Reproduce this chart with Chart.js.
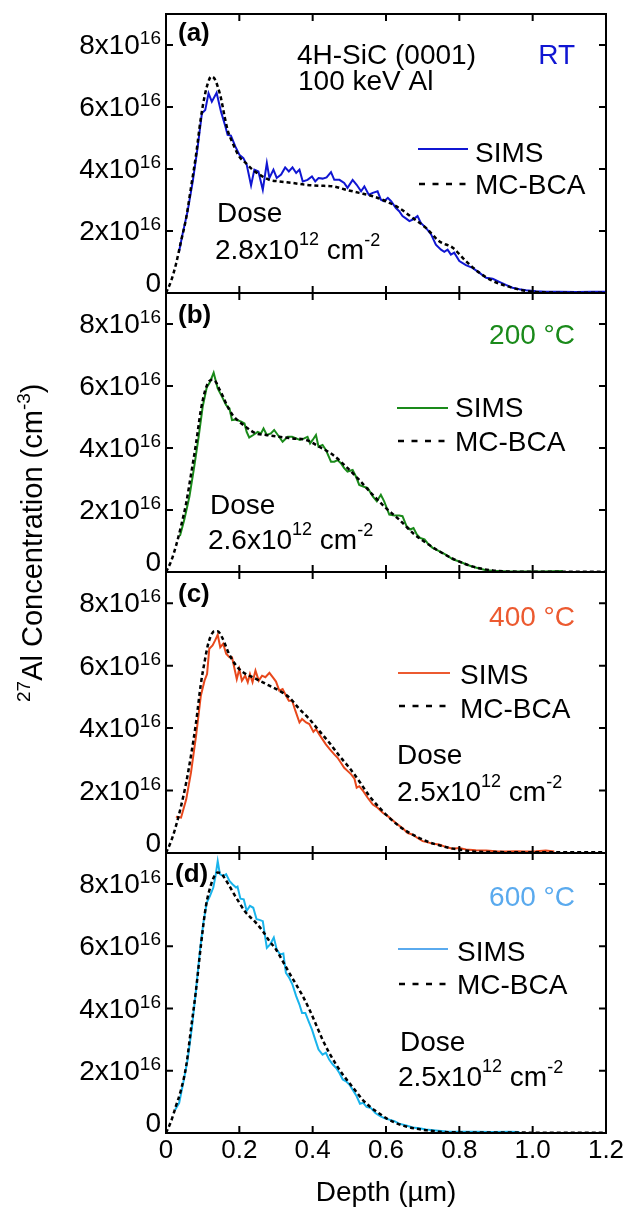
<!DOCTYPE html>
<html>
<head>
<meta charset="utf-8">
<script src="https://cdn.jsdelivr.net/npm/chart.js@4.4.1/dist/chart.umd.min.js"></script>
<style>
  html, body { margin: 0; padding: 0; background: #fff; }
  #wrap { position: relative; width: 630px; height: 1214px; }
  #wrap canvas { position: absolute; left: 0; top: 0; }
</style>
</head>
<body>
<div id="wrap">
  <canvas id="panelA" width="630" height="1214"></canvas>
  <canvas id="panelB" width="630" height="1214"></canvas>
  <canvas id="panelC" width="630" height="1214"></canvas>
  <canvas id="panelD" width="630" height="1214"></canvas>
</div>
<script>
// depth in um, concentration in units of 1e16 cm^-3

// (a) RT
const simsA_depth = [0.035,0.045,0.059,0.073,0.086,0.098,0.107,0.116,0.125,0.138,0.150,0.162,0.168,0.177,0.189,0.200,0.211,0.220,0.232,0.241,0.252,0.264,0.275,0.282,0.293,0.302,0.314,0.325,0.335,0.345,0.355,0.364,0.373,0.386,0.398,0.407,0.416,0.427,0.438,0.450,0.459,0.473,0.486,0.495,0.509,0.520,0.532,0.541,0.553,0.564,0.577,0.586,0.595,0.605,0.614,0.627,0.636,0.645,0.655,0.664,0.673,0.686,0.695,0.709,0.723,0.736,0.750,0.759,0.768,0.777,0.786,0.800,0.818,0.836,0.855,0.873,0.891,0.909,0.927,0.945,0.964,0.982,1.009,1.036,1.073,1.118,1.164,1.200];
const simsA_conc = [1.30,1.89,2.64,3.60,4.67,5.80,5.90,6.44,6.17,6.46,5.85,5.37,5.10,5.08,4.73,4.46,4.35,4.14,3.47,3.98,3.92,3.33,4.19,3.71,3.98,3.71,3.82,4.05,3.92,4.05,3.87,3.98,3.60,3.65,3.76,3.60,3.71,3.69,3.73,3.90,3.65,3.65,3.55,3.39,3.65,3.49,3.28,3.44,3.17,3.23,3.28,3.01,2.96,3.07,2.96,2.74,2.64,2.48,2.40,2.32,2.37,2.48,2.26,2.10,1.89,1.56,1.40,1.33,1.40,1.24,1.30,1.03,0.90,0.81,0.65,0.49,0.46,0.36,0.26,0.17,0.12,0.09,0.06,0.04,0.04,0.03,0.04,0.04];
const mcA_depth = [0,0.014,0.027,0.041,0.055,0.068,0.082,0.095,0.105,0.114,0.123,0.132,0.141,0.150,0.159,0.168,0.182,0.200,0.218,0.236,0.255,0.282,0.309,0.345,0.382,0.418,0.455,0.491,0.527,0.564,0.600,0.636,0.673,0.709,0.745,0.782,0.818,0.855,0.891,0.927,0.964,1.000,1.036,1.073,1.200];
const mcA_conc = [0,0.39,0.92,1.67,2.42,3.39,4.46,5.64,6.33,6.76,6.98,6.92,6.66,6.28,5.74,5.26,4.83,4.40,4.19,3.98,3.82,3.65,3.60,3.55,3.49,3.46,3.44,3.33,3.23,3.12,2.96,2.74,2.42,2.10,1.67,1.46,1.03,0.65,0.39,0.23,0.11,0.04,0.02,0.01,0.01];

// (b) 200 C
const simsB_depth = [0.038,0.050,0.064,0.077,0.089,0.100,0.111,0.120,0.130,0.141,0.153,0.164,0.173,0.180,0.191,0.205,0.214,0.220,0.227,0.238,0.250,0.259,0.266,0.275,0.286,0.295,0.305,0.318,0.332,0.344,0.355,0.365,0.377,0.386,0.393,0.400,0.409,0.416,0.427,0.436,0.450,0.459,0.468,0.477,0.486,0.495,0.509,0.518,0.527,0.538,0.550,0.564,0.575,0.586,0.595,0.609,0.623,0.636,0.645,0.656,0.666,0.675,0.684,0.693,0.705,0.714,0.727,0.745,0.764,0.782,0.800,0.818,0.836,0.855,0.873,0.891,0.936,0.982,1.027,1.082];
const simsB_conc = [1.16,1.69,2.44,3.40,4.36,5.33,5.95,6.13,6.43,5.92,5.65,5.38,5.28,4.90,4.92,4.85,4.79,4.52,4.34,4.42,4.52,4.47,4.63,4.42,4.47,4.58,4.42,4.20,4.36,4.36,4.31,4.26,4.31,4.36,4.15,4.26,4.42,4.04,4.10,3.94,3.56,3.56,3.61,3.51,3.35,3.24,3.29,3.08,2.81,2.76,2.71,2.44,2.28,2.49,2.28,1.85,1.82,1.82,1.80,1.48,1.37,1.42,1.21,1.10,1.05,0.92,0.78,0.67,0.55,0.41,0.34,0.25,0.17,0.11,0.06,0.04,0.02,0.02,0.02,0.03];
const mcB_depth = [0,0.014,0.027,0.041,0.055,0.068,0.082,0.095,0.107,0.118,0.127,0.136,0.145,0.156,0.168,0.182,0.200,0.218,0.245,0.273,0.309,0.345,0.382,0.418,0.455,0.491,0.527,0.564,0.600,0.636,0.673,0.709,0.745,0.782,0.818,0.855,0.891,0.927,0.982,1.200];
const mcB_conc = [0,0.35,0.83,1.48,2.22,3.13,4.15,5.22,5.86,6.16,6.20,6.13,5.91,5.65,5.33,5.06,4.85,4.68,4.47,4.42,4.36,4.31,4.26,4.04,3.78,3.40,2.97,2.49,2.06,1.69,1.26,0.94,0.67,0.43,0.25,0.12,0.05,0.02,0.01,0.01];

// (c) 400 C
const simsC_depth = [0.027,0.041,0.055,0.068,0.082,0.095,0.105,0.112,0.118,0.127,0.134,0.141,0.148,0.156,0.164,0.173,0.180,0.186,0.193,0.200,0.207,0.216,0.223,0.229,0.236,0.244,0.253,0.262,0.271,0.282,0.291,0.300,0.309,0.318,0.325,0.335,0.344,0.353,0.364,0.371,0.382,0.391,0.402,0.409,0.418,0.427,0.436,0.447,0.459,0.468,0.477,0.486,0.495,0.505,0.514,0.520,0.527,0.538,0.550,0.564,0.577,0.591,0.605,0.618,0.632,0.645,0.659,0.673,0.686,0.700,0.714,0.727,0.745,0.764,0.782,0.800,0.818,0.845,0.873,0.900,0.927,0.955,0.982,1.009,1.036,1.059];
const simsC_conc = [1.16,1.13,1.71,2.57,3.75,5.04,5.52,5.73,6.54,6.65,6.81,6.99,6.59,6.70,6.38,6.27,6.27,5.95,5.57,5.89,5.52,5.68,5.47,5.73,5.47,5.84,5.52,5.68,5.63,5.77,5.63,5.49,5.20,5.25,5.09,4.88,4.88,4.55,4.18,4.29,4.18,4.13,3.88,3.97,3.80,3.64,3.48,3.32,3.16,3.05,2.89,2.73,2.63,2.52,2.38,2.09,2.14,1.98,1.77,1.55,1.45,1.29,1.18,1.05,0.91,0.80,0.64,0.59,0.48,0.38,0.34,0.30,0.27,0.19,0.14,0.16,0.11,0.09,0.08,0.06,0.05,0.06,0.05,0.06,0.08,0.05];
const mcC_depth = [0,0.014,0.027,0.041,0.055,0.068,0.082,0.095,0.105,0.114,0.123,0.132,0.141,0.150,0.159,0.168,0.182,0.200,0.218,0.236,0.255,0.282,0.309,0.336,0.364,0.391,0.418,0.445,0.473,0.500,0.527,0.555,0.582,0.609,0.636,0.664,0.691,0.718,0.745,0.773,0.800,0.836,0.891,1.200];
const mcC_conc = [0,0.38,0.86,1.50,2.25,3.11,4.18,5.41,6.11,6.65,6.97,7.10,7.10,6.97,6.75,6.48,6.16,5.89,5.73,5.63,5.52,5.36,5.20,4.98,4.61,4.29,3.91,3.54,3.11,2.73,2.30,1.82,1.45,1.13,0.86,0.64,0.48,0.34,0.25,0.16,0.11,0.05,0.03,0.02];

// (d) 600 C
const simsD_depth = [0.025,0.036,0.047,0.059,0.071,0.082,0.093,0.102,0.111,0.120,0.129,0.135,0.141,0.147,0.156,0.164,0.173,0.182,0.191,0.195,0.203,0.212,0.220,0.229,0.238,0.247,0.255,0.264,0.275,0.284,0.294,0.302,0.311,0.320,0.327,0.336,0.345,0.355,0.364,0.371,0.380,0.389,0.398,0.407,0.416,0.427,0.436,0.445,0.455,0.464,0.473,0.482,0.491,0.500,0.509,0.520,0.529,0.538,0.547,0.559,0.571,0.584,0.595,0.609,0.623,0.636,0.655,0.673,0.691,0.709,0.736,0.764,0.800,0.845,0.891,0.936,0.964];
const simsD_conc = [0.75,0.97,1.61,2.36,3.43,4.61,5.90,6.76,7.40,7.62,7.89,8.26,8.74,8.32,8.26,8.32,8.10,7.99,7.89,7.92,7.53,7.51,7.14,7.30,7.24,6.87,6.85,6.81,5.95,6.06,6.28,5.90,5.74,5.77,5.15,4.99,4.77,4.40,4.13,3.86,3.86,3.59,3.33,3.00,2.68,2.52,2.58,2.36,2.20,2.09,1.93,1.72,1.66,1.56,1.39,1.18,0.94,0.97,0.84,0.80,0.64,0.54,0.48,0.43,0.38,0.30,0.24,0.18,0.15,0.11,0.08,0.05,0.04,0.04,0.03,0.04,0.03];
const mcD_depth = [0,0.014,0.027,0.041,0.055,0.068,0.082,0.095,0.109,0.123,0.132,0.141,0.150,0.159,0.173,0.186,0.200,0.214,0.227,0.245,0.264,0.282,0.300,0.318,0.336,0.355,0.373,0.391,0.409,0.427,0.445,0.464,0.482,0.500,0.518,0.536,0.555,0.573,0.600,0.627,0.655,0.682,0.709,0.745,0.800,1.200];
const mcD_conc = [0,0.38,0.86,1.39,2.15,3.33,4.61,6.01,7.30,7.99,8.26,8.37,8.35,8.21,7.94,7.67,7.40,7.14,6.97,6.76,6.49,6.17,5.90,5.53,5.15,4.77,4.40,3.97,3.49,3.00,2.58,2.20,1.88,1.61,1.34,1.07,0.86,0.70,0.48,0.32,0.21,0.14,0.09,0.04,0.02,0.01];

const xTicks = [0, 0.2, 0.4, 0.6, 0.8, 1.0, 1.2];
const yTicks = [0, 2, 4, 6, 8];
const doseValues = ['2.8', '2.6', '2.5', '2.5'];
const tempLabels = ['RT', '200 \u00b0C', '400 \u00b0C', '600 \u00b0C'];

const FONT = '"Liberation Sans", Arial, Helvetica, sans-serif';
Chart.defaults.font.family = FONT;

// layout of each panel (pixels on the 630x1214 page)
const panels = [
  { id: 'panelA', top: 14, bottom: 293, simsX: simsA_depth, simsY: simsA_conc, mcX: mcA_depth, mcY: mcA_conc,
    color: '#1016d2', keyColor: '#1016d2', tag: '(a)', tagAt: [178, 27], tempDy: 50,
    notes: [['4H-SiC (0001)', 297, 50], ['100 keV Al', 298, 76]],
    key: { x0: 418, x1: 468, tx: 475, sims: 135, simsBase: 148, mc: 170, mcBase: 180 },
    dose: { x: 217, dy: 208, vx: 215, vdy: 245 } },
  { id: 'panelB', top: 293, bottom: 572, simsX: simsB_depth, simsY: simsB_conc, mcX: mcB_depth, mcY: mcB_conc,
    color: '#1a8a1a', keyColor: '#1a8a1a', tag: '(b)', tagAt: [178, 30], tempDy: 51, notes: [],
    key: { x0: 397, x1: 448, tx: 455, sims: 115, simsBase: 124, mc: 148, mcBase: 158 },
    dose: { x: 210, dy: 221, vx: 208, vdy: 256 } },
  { id: 'panelC', top: 572, bottom: 853, simsX: simsC_depth, simsY: simsC_conc, mcX: mcC_depth, mcY: mcC_conc,
    color: '#e8481c', keyColor: '#ec5a30', tag: '(c)', tagAt: [178, 30], tempDy: 54, notes: [],
    key: { x0: 398, x1: 450, tx: 460, sims: 101, simsBase: 112, mc: 134, mcBase: 146 },
    dose: { x: 397, dy: 192, vx: 397, vdy: 229 } },
  { id: 'panelD', top: 853, bottom: 1133, simsX: simsD_depth, simsY: simsD_conc, mcX: mcD_depth, mcY: mcD_conc,
    color: '#1ab4ec', keyColor: '#5aaaee', tag: '(d)', tagAt: [175, 29], tempDy: 53, notes: [],
    key: { x0: 398, x1: 448, tx: 457, sims: 96, simsBase: 108, mc: 131, mcBase: 141 },
    dose: { x: 400, dy: 198, vx: 398, vdy: 233 } }
];

function zip(xs, ys) {
  const n = Math.min(xs.length, ys.length);
  const out = [];
  for (let i = 0; i < n; i++) out.push({ x: xs[i], y: ys[i] });
  return out;
}

// draw pieces of text one after another; each part is [text, size, rise]
function richText(ctx, parts, x, y) {
  let cx = x;
  parts.forEach(([t, size, rise]) => {
    ctx.font = size + 'px ' + FONT;
    ctx.fillText(t, cx, y - rise);
    cx += ctx.measureText(t).width;
  });
  return cx;
}

function richWidth(ctx, parts) {
  let w = 0;
  parts.forEach(([t, size]) => {
    ctx.font = size + 'px ' + FONT;
    w += ctx.measureText(t).width;
  });
  return w;
}

function decorPlugin(p, idx) {
  return {
    id: 'decor' + idx,
    afterDatasetsDraw(chart) {
      const { ctx, chartArea: a } = chart;
      const xs = chart.scales.x, ys = chart.scales.y;
      ctx.save();

      // frame with inward ticks
      ctx.strokeStyle = '#000';
      ctx.lineWidth = 2;
      ctx.setLineDash([]);
      ctx.strokeRect(a.left, a.top, a.right - a.left, a.bottom - a.top);
      ctx.beginPath();
      xTicks.forEach(v => {
        const px = xs.getPixelForValue(v);
        if (px <= a.left + 1 || px >= a.right - 1) return;
        ctx.moveTo(px, a.bottom); ctx.lineTo(px, a.bottom - 7);
        ctx.moveTo(px, a.top); ctx.lineTo(px, a.top + 7);
      });
      yTicks.forEach(v => {
        const py = ys.getPixelForValue(v);
        if (py >= a.bottom - 1) return;
        ctx.moveTo(a.left, py); ctx.lineTo(a.left + 7, py);
        ctx.moveTo(a.right, py); ctx.lineTo(a.right - 7, py);
      });
      ctx.stroke();

      // y tick labels with superscript exponent
      ctx.fillStyle = '#000';
      ctx.textAlign = 'left';
      ctx.textBaseline = 'alphabetic';
      const rightEdge = a.left - 5;
      yTicks.forEach(v => {
        const py = ys.getPixelForValue(v);
        if (v === 0) {
          const parts = [['0', 28, 0]];
          richText(ctx, parts, rightEdge - richWidth(ctx, parts), py - 1);
        } else {
          const parts = [[v + 'x10', 28, 0], ['16', 19, 10]];
          richText(ctx, parts, rightEdge - richWidth(ctx, parts), py + 9);
        }
      });

      const t = a.top;
      // panel tag
      ctx.font = 'bold 26px ' + FONT;
      ctx.fillText(p.tag, p.tagAt[0], t + p.tagAt[1]);

      // temperature
      ctx.fillStyle = p.keyColor;
      ctx.font = '28px ' + FONT;
      ctx.textAlign = 'right';
      ctx.fillText(tempLabels[idx], 575, t + p.tempDy);
      ctx.textAlign = 'left';

      // extra notes
      ctx.fillStyle = '#000';
      p.notes.forEach(([txt, x, dy]) => {
        ctx.font = '28px ' + FONT;
        ctx.fillText(txt, x, t + dy);
      });

      // legend
      const k = p.key;
      ctx.strokeStyle = p.keyColor;
      ctx.lineWidth = 2;
      ctx.beginPath();
      ctx.moveTo(k.x0, t + k.sims); ctx.lineTo(k.x1, t + k.sims);
      ctx.stroke();
      ctx.strokeStyle = '#000';
      ctx.lineWidth = 2.5;
      ctx.setLineDash([6, 7.5]);
      ctx.beginPath();
      ctx.moveTo(k.x0 + 1, t + k.mc); ctx.lineTo(k.x1, t + k.mc);
      ctx.stroke();
      ctx.setLineDash([]);
      ctx.font = '28px ' + FONT;
      ctx.fillText('SIMS', k.tx, t + k.simsBase);
      ctx.fillText('MC-BCA', k.tx, t + k.mcBase);

      // dose
      const d = p.dose;
      ctx.font = '28px ' + FONT;
      ctx.fillText('Dose', d.x, t + d.dy);
      richText(ctx, [[doseValues[idx] + 'x10', 28, 0], ['12', 18, 14], [' cm', 28, 0], ['-2', 18, 13]], d.vx, t + d.vdy);

      // shared y-axis title, drawn once
      if (idx === 3) {
        ctx.save();
        ctx.translate(42, 702);
        ctx.rotate(-Math.PI / 2);
        ctx.textAlign = 'left';
        richText(ctx, [['27', 19, 12], ['Al Concentration (cm', 29, 0], ['-3', 19, 12], [')', 29, 0]], 0, 0);
        ctx.restore();
      }
      ctx.restore();
    }
  };
}

panels.forEach((p, idx) => {
  const last = idx === panels.length - 1;
  const xScale = {
    type: 'linear',
    min: 0,
    max: 1.2,
    display: last,
    grid: { display: false, drawTicks: false },
    border: { display: false },
    ticks: {
      stepSize: 0.2,
      autoSkip: false,
      maxRotation: 0,
      padding: 2,
      color: '#000',
      font: { size: 26 },
      callback: v => (v === 0 ? '0' : Number(v).toFixed(1))
    },
    title: {
      display: true,
      text: 'Depth (\u00b5m)',
      color: '#000',
      font: { size: 28 },
      padding: { top: 0, bottom: 4 }
    }
  };
  if (last) {
    xScale.afterFit = scale => { scale.height = 1214 - p.bottom; };
  }
  new Chart(document.getElementById(p.id), {
    type: 'line',
    data: {
      datasets: [
        {
          label: 'MC-BCA',
          data: zip(p.mcX, p.mcY),
          borderColor: '#000',
          borderWidth: 2.5,
          borderDash: [4, 3],
          pointRadius: 0,
          cubicInterpolationMode: 'monotone',
          fill: false
        },
        {
          label: 'SIMS',
          data: zip(p.simsX, p.simsY),
          borderColor: p.color,
          borderWidth: 2,
          pointRadius: 0,
          tension: 0,
          fill: false
        }
      ]
    },
    options: {
      responsive: false,
      animation: false,
      events: [],
      layout: { padding: { left: 166, right: 24, top: p.top, bottom: last ? 0 : 1214 - p.bottom } },
      plugins: { legend: { display: false }, tooltip: { enabled: false } },
      scales: {
        x: xScale,
        y: { type: 'linear', min: 0, max: 9, display: false }
      }
    },
    plugins: [decorPlugin(p, idx)]
  });
});
</script>
</body>
</html>
